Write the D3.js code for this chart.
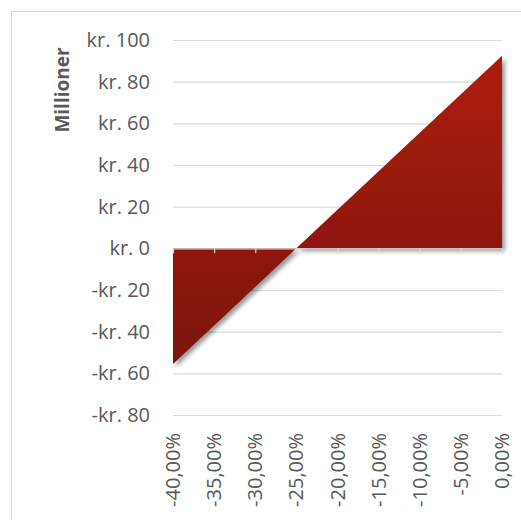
<!DOCTYPE html>
<html>
<head>
<meta charset="utf-8">
<script src="https://cdn.jsdelivr.net/npm/d3@7"></script>
<style>
  html, body { margin: 0; padding: 0; background: #fff; }
  svg { display: block; }
  text { font-family: "Open Sans", "Liberation Sans", sans-serif; fill: #595959; }
</style>
</head>
<body>
<script>
// Change in price (x categories) and resulting result in millions of kroner
const categories = ["-40,00%", "-35,00%", "-30,00%", "-25,00%", "-20,00%", "-15,00%", "-10,00%", "-5,00%", "0,00%"];
const values = [-55.5, -37.0, -18.5, 0.0, 18.5, 37.0, 55.5, 74.0, 92.5];
const yTicks = [-80, -60, -40, -20, 0, 20, 40, 60, 80, 100];
const yTitle = "Millioner";

const W = 521, H = 520;
const svg = d3.select("body").append("svg").attr("width", W).attr("height", H);

// chart frame
svg.append("rect")
  .attr("x", 11.5).attr("y", 11.5)
  .attr("width", W + 20).attr("height", H + 20)
  .attr("fill", "#fff").attr("stroke", "#d9d9d9").attr("stroke-width", 1);

const x = d3.scalePoint().domain(categories).range([173, 502]);
const y = d3.scaleLinear().domain([-80, 100]).range([415, 40]);

const defs = svg.append("defs");
const grad = defs.append("linearGradient")
  .attr("id", "areaFill")
  .attr("gradientUnits", "userSpaceOnUse")
  .attr("x1", 0).attr("x2", 0)
  .attr("y1", y(d3.max(values))).attr("y2", y(d3.min(values)));
grad.append("stop").attr("offset", "0%").attr("stop-color", "#ad1e0f");
grad.append("stop").attr("offset", "100%").attr("stop-color", "#7b1409");

const shadow = defs.append("filter").attr("id", "shadow")
  .attr("x", "-10%").attr("y", "-10%").attr("width", "130%").attr("height", "130%");
shadow.append("feGaussianBlur").attr("in", "SourceAlpha").attr("stdDeviation", 2).attr("result", "b");
shadow.append("feOffset").attr("in", "b").attr("dx", 3).attr("dy", 3).attr("result", "o");
shadow.append("feComponentTransfer").attr("in", "o").attr("result", "s")
  .append("feFuncA").attr("type", "linear").attr("slope", 0.4);
const merge = shadow.append("feMerge");
merge.append("feMergeNode").attr("in", "s");
merge.append("feMergeNode").attr("in", "SourceGraphic");

// horizontal gridlines and value labels
const yAxis = d3.axisLeft(y).tickValues(yTicks)
  .tickSize(-(x.range()[1] - x.range()[0]))
  .tickPadding(23)
  .tickFormat(d => (d < 0 ? "-kr. " : "kr. ") + Math.abs(d));
const gy = svg.append("g").attr("transform", `translate(${x.range()[0]},0)`).call(yAxis);
gy.select(".domain").remove();
gy.selectAll(".tick line").attr("stroke", "#d9d9d9").attr("stroke-width", 1.2);
gy.selectAll(".tick text").style("font-size", "20px").attr("fill", "#595959");

// area between the result curve and zero
const area = d3.area()
  .x((d, i) => x(categories[i]))
  .y0(y(0))
  .y1(d => y(d));
svg.append("path")
  .datum(values)
  .attr("d", area)
  .attr("fill", "url(#areaFill)")
  .attr("filter", "url(#shadow)");

// category axis on the zero line
const xAxis = d3.axisBottom(x).tickSize(5).tickSizeOuter(0).tickFormat(() => "");
const gx = svg.append("g").attr("transform", `translate(0,${y(0)})`).call(xAxis);
gx.select(".domain").attr("stroke", "#d9d9d9").attr("stroke-width", 1.2);
gx.selectAll(".tick line").attr("stroke", "#d9d9d9").attr("stroke-width", 1.2);

// rotated category labels under the plot
svg.append("g").selectAll("text")
  .data(categories)
  .join("text")
  .attr("transform", d => `translate(${x(d)},433) rotate(-90)`)
  .attr("text-anchor", "end")
  .attr("dy", "0.35em")
  .style("font-size", "20px")
  .text(d => d);

// axis title
svg.append("text")
  .attr("transform", "translate(62,90) rotate(-90)")
  .attr("text-anchor", "middle")
  .attr("dy", "0.35em")
  .style("font-size", "19px")
  .style("font-weight", "bold")
  .text(yTitle);
</script>
</body>
</html>
